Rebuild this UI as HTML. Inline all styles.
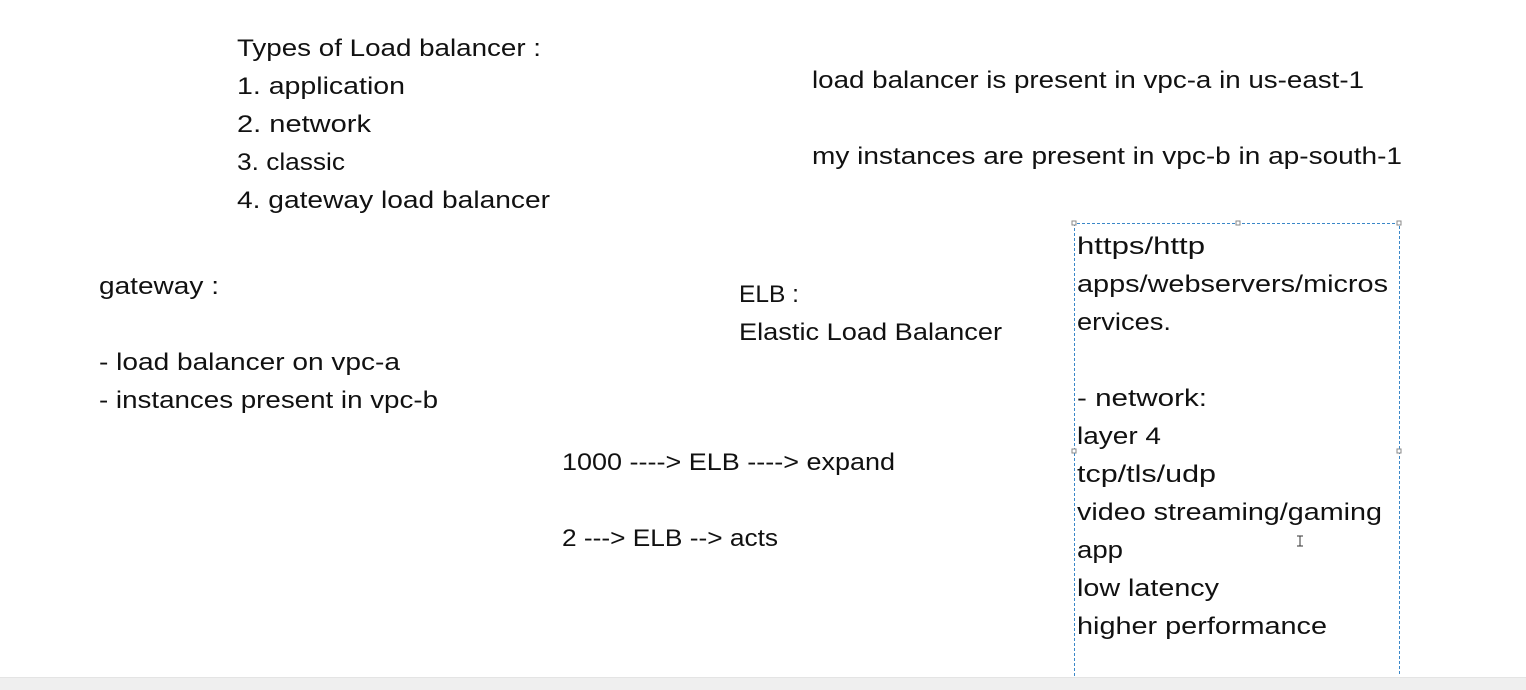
<!DOCTYPE html>
<html><head><meta charset="utf-8"><style>
html,body{margin:0;padding:0;background:#fff;width:1526px;height:690px;overflow:hidden}
text{font-family:"Liberation Sans",sans-serif;font-size:24px;fill:#111}
</style></head><body>
<svg width="1526" height="690" xmlns="http://www.w3.org/2000/svg">
<rect x="0" y="677" width="1526" height="13" fill="#efefef"/>
<line x1="0" y1="677.5" x2="1526" y2="677.5" stroke="#e4e4e4"/>
<g lengthAdjust="spacingAndGlyphs">
<text x="237" y="56" textLength="304" lengthAdjust="spacingAndGlyphs">Types of Load balancer :</text>
<text x="237" y="94" textLength="168" lengthAdjust="spacingAndGlyphs">1. application</text>
<text x="237" y="132" textLength="134" lengthAdjust="spacingAndGlyphs">2. network</text>
<text x="237" y="170" textLength="108" lengthAdjust="spacingAndGlyphs">3. classic</text>
<text x="237" y="208" textLength="313" lengthAdjust="spacingAndGlyphs">4. gateway load balancer</text>
<text x="812" y="88" textLength="552" lengthAdjust="spacingAndGlyphs">load balancer is present in vpc-a in us-east-1</text>
<text x="812" y="164" textLength="590" lengthAdjust="spacingAndGlyphs">my instances are present in vpc-b in ap-south-1</text>
<text x="99" y="294" textLength="120" lengthAdjust="spacingAndGlyphs">gateway :</text>
<text x="99" y="370" textLength="301" lengthAdjust="spacingAndGlyphs">- load balancer on vpc-a</text>
<text x="99" y="408" textLength="339" lengthAdjust="spacingAndGlyphs">- instances present in vpc-b</text>
<text x="739" y="302" textLength="60" lengthAdjust="spacingAndGlyphs">ELB :</text>
<text x="739" y="340" textLength="263" lengthAdjust="spacingAndGlyphs">Elastic Load Balancer</text>
<text x="562" y="470" textLength="333" lengthAdjust="spacingAndGlyphs">1000 ----&gt; ELB ----&gt; expand</text>
<text x="562" y="546" textLength="216" lengthAdjust="spacingAndGlyphs">2 ---&gt; ELB --&gt; acts</text>
<text x="1077" y="254" textLength="128" lengthAdjust="spacingAndGlyphs">https/http</text>
<text x="1077" y="292" textLength="311" lengthAdjust="spacingAndGlyphs">apps/webservers/micros</text>
<text x="1077" y="330" textLength="94" lengthAdjust="spacingAndGlyphs">ervices.</text>
<text x="1077" y="406" textLength="130" lengthAdjust="spacingAndGlyphs">- network:</text>
<text x="1077" y="444" textLength="84" lengthAdjust="spacingAndGlyphs">layer 4</text>
<text x="1077" y="482" textLength="139" lengthAdjust="spacingAndGlyphs">tcp/tls/udp</text>
<text x="1077" y="520" textLength="305" lengthAdjust="spacingAndGlyphs">video streaming/gaming</text>
<text x="1077" y="558" textLength="46" lengthAdjust="spacingAndGlyphs">app</text>
<text x="1077" y="596" textLength="142" lengthAdjust="spacingAndGlyphs">low latency</text>
<text x="1077" y="634" textLength="250" lengthAdjust="spacingAndGlyphs">higher performance</text>
</g>
<path d="M1074.5 676 V223.5 H1399.5 V676" fill="none" stroke="#3a87c8" stroke-width="1" stroke-dasharray="3,2"/>
<g fill="#fff" stroke="#888" stroke-width="1">
<rect x="1072" y="221" width="4" height="4"/>
<rect x="1236" y="221" width="4" height="4"/>
<rect x="1397" y="221" width="4" height="4"/>
<rect x="1072" y="449" width="4" height="4"/>
<rect x="1397" y="449" width="4" height="4"/>
</g>
<path d="M1297 536h6M1300 536v10M1297 546h6" stroke="#333" stroke-width="1" fill="none"/>
</svg>
</body></html>
